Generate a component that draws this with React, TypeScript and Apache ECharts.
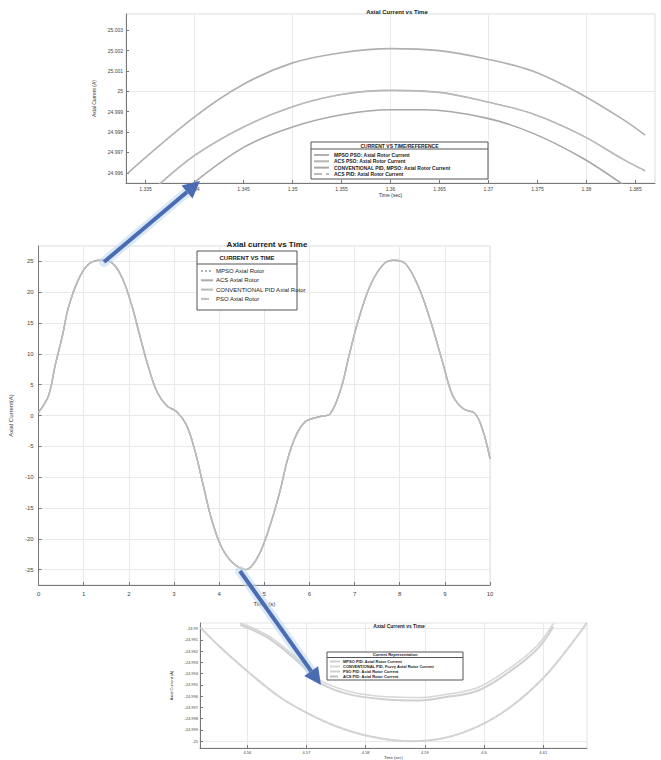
import React, { useEffect, useRef } from "react";
import * as echarts from "echarts";

// ---------- Main chart: Axial current vs Time ----------
const mainTime = [0, 0.22, 0.37, 0.53, 0.66, 0.88, 1.1, 1.36, 1.62, 1.84, 2.06, 2.24, 2.42, 2.62, 2.84, 3.06, 3.28, 3.47, 3.65, 3.83, 4.05, 4.3, 4.59, 4.86, 5.12, 5.34, 5.52, 5.7, 5.91, 6.22, 6.46, 6.7, 6.88, 7.1, 7.36, 7.65, 7.87, 8.13, 8.42, 8.68, 8.94, 9.17, 9.41, 9.67, 9.85, 10];
const mainCurrent = [0.5, 3.2, 8.2, 13, 17.5, 22, 24.5, 25.2, 24.8, 22.5, 18, 13, 8.2, 3.9, 1.6, 0.6, -1.6, -5.9, -11.4, -16.8, -21.3, -23.9, -25, -22.9, -18, -12.5, -7, -3.3, -1, -0.2, 0.3, 4.4, 9.8, 15.9, 21.3, 24.6, 25.2, 24.6, 20.8, 15.4, 8.9, 3.3, 1.1, 0.3, -2.6, -7];
const mainXTicks = [0, 1, 2, 3, 4, 5, 6, 7, 8, 9, 10];
const mainYTicks = [-25, -20, -15, -10, -5, 0, 5, 10, 15, 20, 25];
const mainLegend = ["MPSO Axial Rotor", "ACS Axial Rotor", "CONVENTIONAL PID Axial Rotor", "PSO Axial Rotor"];

// ---------- Top zoom: around the positive peak ----------
const topUpperTime = [1.3332, 1.34, 1.345, 1.35, 1.355, 1.36, 1.365, 1.3697, 1.3745, 1.3795, 1.3838, 1.386];
const topUpper = [24.996, 24.99875, 25.00035, 25.0014, 25.0019, 25.0021, 25.002, 25.0016, 25.001, 24.99985, 24.9986, 24.99785];
const topMiddleTime = [1.3362, 1.34, 1.345, 1.35, 1.355, 1.36, 1.365, 1.3697, 1.3745, 1.3795, 1.3838, 1.386];
const topMiddle = [24.99535, 24.99685, 24.99825, 24.99925, 24.99985, 25.00005, 24.99995, 24.9995, 24.9989, 24.99785, 24.99665, 24.9961];
const topLowerTime = [1.3395, 1.345, 1.35, 1.355, 1.36, 1.3635, 1.3697, 1.3745, 1.3795, 1.3838];
const topLower = [24.99535, 24.99725, 24.99825, 24.99885, 24.9991, 24.9991, 24.9987, 24.99795, 24.99675, 24.9954];
const topXTicks = [1.335, 1.34, 1.345, 1.35, 1.355, 1.36, 1.365, 1.37, 1.375, 1.38, 1.385];
const topYTicks = [24.996, 24.997, 24.998, 24.999, 25, 25.001, 25.002, 25.003];
const topLegend = ["MPSO PSO: Axial Rotor Current", "ACS PSO: Axial Rotor Current", "CONVENTIONAL PID, MPSO: Axial Rotor Current", "ACS PID: Axial Rotor Current"];

// ---------- Bottom zoom: around the negative trough ----------
const botUpperTime = [4.5588, 4.5639, 4.5698, 4.5723, 4.5774, 4.5836, 4.5892, 4.5931, 4.5989, 4.6044, 4.609, 4.6117];
const botUpper = [-24.98966, -24.99095, -24.99353, -24.99483, -24.99586, -24.99629, -24.99638, -24.99612, -24.99552, -24.99379, -24.99181, -24.98983];
const botUpper2 = [-24.9895, -24.99075, -24.9933, -24.9946, -24.9956, -24.99605, -24.99612, -24.99588, -24.99525, -24.9935, -24.9915, -24.98955];
const botLowerTime = [4.5521, 4.5554, 4.56, 4.5656, 4.5698, 4.5752, 4.5808, 4.5875, 4.5931, 4.5989, 4.6044, 4.61, 4.6141, 4.6174];
const botLower = [-24.98991, -24.99164, -24.99379, -24.99612, -24.99741, -24.99871, -24.99957, -25.0, -24.99974, -24.99871, -24.99698, -24.9944, -24.99181, -24.98948];
const botXTicks = [4.56, 4.57, 4.58, 4.59, 4.6, 4.61];
const botYTicks = [-25, -24.999, -24.998, -24.997, -24.996, -24.995, -24.994, -24.993, -24.992, -24.991, -24.99];
const botLegend = ["MPSO PID: Axial Rotor Current", "CONVENTIONAL PID, Fuzzy Axial Rotor Current", "PSO PID: Axial Rotor Current", "ACS PID: Axial Rotor Current"];

const FONT = "'Liberation Sans', Arial, sans-serif";
const pairs = (xs: number[], ys: number[]) => xs.map((x, i) => [x, ys[i]]);
const fmt = (v: number) => String(parseFloat(Number(v).toFixed(4)));

function gridLines(idx: number, xs: number[], ys: number[]) {
  return {
    type: "line",
    xAxisIndex: idx,
    yAxisIndex: idx,
    data: [],
    silent: true,
    z: 0,
    markLine: {
      silent: true,
      z: 0,
      symbol: ["none", "none"],
      label: { show: false },
      emphasis: { disabled: true },
      lineStyle: { color: "#e9e9e9", width: 1, type: "solid" },
      data: [...xs.map((v) => ({ xAxis: v })), ...ys.map((v) => ({ yAxis: v }))],
    },
  };
}

function axis(idx: number, min: number, max: number, ticks: number[], name: string, fontSize: number, nameGap: number, margin: number, isY: boolean) {
  return {
    type: "value",
    gridIndex: idx,
    min,
    max,
    name,
    nameLocation: "middle",
    nameGap,
    nameRotate: isY ? 90 : 0,
    nameTextStyle: { fontSize, color: "#333", fontFamily: FONT },
    axisLine: { show: true, onZero: false, lineStyle: { color: "#777", width: 1 } },
    axisTick: { show: true, inside: true, length: 3, customValues: ticks, lineStyle: { color: "#777" } },
    axisLabel: { customValues: ticks, fontSize, color: "#444", fontFamily: FONT, margin, formatter: fmt },
    splitLine: { show: false },
  };
}

function lineSeries(idx: number, name: string, data: number[][], color: string, width: number, type: string) {
  return {
    type: "line",
    name,
    xAxisIndex: idx,
    yAxisIndex: idx,
    data,
    smooth: 0.35,
    symbol: "none",
    showSymbol: false,
    z: 2,
    lineStyle: { color, width, type },
    itemStyle: { color },
  };
}

function legendBox(x: number, y: number, w: number, h: number, sepY: number, title: string, fontSize: number) {
  return {
    type: "group",
    z: 3,
    children: [
      { type: "rect", z: 3, shape: { x, y, width: w, height: h }, style: { fill: "#fff", stroke: "#555", lineWidth: 1 } },
      { type: "line", z: 3, shape: { x1: x, y1: sepY, x2: x + w, y2: sepY }, style: { stroke: "#555", lineWidth: 1 } },
      {
        type: "text",
        z: 3,
        x: x + w / 2,
        y: (y + sepY) / 2,
        style: { text: title, fill: "#222", font: `bold ${fontSize}px ${FONT}`, align: "center", verticalAlign: "middle" },
      },
    ],
  };
}

function arrow(x1: number, y1: number, x2: number, y2: number) {
  const dx = x2 - x1;
  const dy = y2 - y1;
  const len = Math.sqrt(dx * dx + dy * dy);
  const ux = dx / len;
  const uy = dy / len;
  const hl = 17;
  const hw = 8.5;
  const bx = x2 - ux * hl;
  const by = y2 - uy * hl;
  return {
    type: "group",
    z: 10,
    children: [
      { type: "line", z: 9, shape: { x1, y1, x2: bx, y2: by }, style: { stroke: "rgba(190,215,240,0.55)", lineWidth: 10, lineCap: "round" } },
      { type: "line", z: 10, shape: { x1, y1, x2: bx, y2: by }, style: { stroke: "#4a6cb3", lineWidth: 4 } },
      {
        type: "polygon",
        z: 10,
        shape: { points: [[x2, y2], [bx - uy * hw, by + ux * hw], [bx + uy * hw, by - ux * hw]] },
        style: { fill: "#4a6cb3" },
      },
    ],
  };
}

export default function App() {
  const ref = useRef<HTMLDivElement>(null);

  useEffect(() => {
    if (!ref.current) return;
    const chart = echarts.init(ref.current, undefined, { renderer: "svg" });
    const mainData = pairs(mainTime, mainCurrent);

    chart.setOption({
      animation: false,
      backgroundColor: "#ffffff",
      textStyle: { fontFamily: FONT },
      title: [
        { text: "Axial Current vs Time", left: 392, top: 4, textAlign: "center", textStyle: { fontSize: 6, fontWeight: "bold", color: "#222", fontFamily: FONT } },
        { text: "Axial current vs Time", left: 262, top: 235, textAlign: "center", textStyle: { fontSize: 8, fontWeight: "bold", color: "#222", fontFamily: FONT } },
        { text: "Axial Current vs Time", left: 394, top: 618, textAlign: "center", textStyle: { fontSize: 5, fontWeight: "bold", color: "#222", fontFamily: FONT } },
      ],
      grid: [
        { left: 33, top: 246, width: 457, height: 339, show: true, borderColor: "#dddddd", borderWidth: 1, backgroundColor: "transparent" },
        { left: 126, top: 14, width: 529, height: 169, show: true, borderColor: "#dddddd", borderWidth: 1, backgroundColor: "transparent" },
        { left: 200, top: 623, width: 387, height: 129, show: true, borderColor: "#e2e2e2", borderWidth: 1, backgroundColor: "transparent" },
      ],
      xAxis: [
        axis(0, 0, 10, mainXTicks, "Time (s)", 6, 16, 6, false),
        axis(1, 1.333, 1.387, topXTicks, "Time (sec)", 5, 9, 3, false),
        axis(2, 4.552, 4.6174, botXTicks, "Time (sec)", 4, 7, 2, false),
      ],
      yAxis: [
        axis(0, -27.5, 27.5, mainYTicks, "Axial Current(A)", 6, 12, 5, true),
        axis(1, 24.9955, 25.0038, topYTicks, "Axial Current (A)", 5, 19, 3, true),
        axis(2, -25.0006, -24.9895, botYTicks, "Axial Current (A)", 4, 18, 2, true),
      ],
      legend: [
        {
          data: mainLegend,
          orient: "vertical",
          left: 200,
          top: 268,
          itemWidth: 12,
          itemHeight: 7,
          itemGap: 3.3,
          padding: 0,
          selectedMode: false,
          itemStyle: { opacity: 0 },
          textStyle: { fontSize: 6, color: "#222", fontFamily: FONT, padding: [0, 0, 0, -2] },
        },
        {
          data: topLegend,
          orient: "vertical",
          left: 313,
          top: 152.5,
          itemWidth: 15,
          itemHeight: 5,
          itemGap: 1.3,
          padding: 0,
          selectedMode: false,
          itemStyle: { opacity: 0 },
          textStyle: { fontSize: 5, color: "#222", fontWeight: "bold", fontFamily: FONT },
        },
        {
          data: botLegend,
          orient: "vertical",
          left: 329,
          top: 659.5,
          itemWidth: 10,
          itemHeight: 4,
          itemGap: 1,
          padding: 0,
          selectedMode: false,
          itemStyle: { opacity: 0 },
          textStyle: { fontSize: 4, color: "#222", fontWeight: "bold", fontFamily: FONT, padding: [0, 0, 0, -2] },
        },
      ],
      series: [
        gridLines(0, mainXTicks, mainYTicks),
        gridLines(1, topXTicks, topYTicks),
        gridLines(2, botXTicks, botYTicks),
        lineSeries(0, mainLegend[0], mainData, "#b4b4b4", 1.4, "dotted"),
        lineSeries(0, mainLegend[1], mainData, "#aaaaaa", 1.4, "solid"),
        lineSeries(0, mainLegend[2], mainData, "#b8b8b8", 1.4, "solid"),
        lineSeries(0, mainLegend[3], mainData, "#bdbdbd", 1.4, "dashed"),
        lineSeries(1, topLegend[0], pairs(topUpperTime, topUpper), "#b0b0b0", 1.6, "solid"),
        lineSeries(1, topLegend[1], pairs(topMiddleTime, topMiddle), "#b4b4b4", 1.6, "solid"),
        lineSeries(1, topLegend[2], pairs(topLowerTime, topLower), "#a8a8a8", 1.6, "solid"),
        lineSeries(1, topLegend[3], pairs(topMiddleTime, topMiddle), "#bcbcbc", 1.2, "dashed"),
        lineSeries(2, botLegend[0], pairs(botUpperTime, botUpper), "#d0d0d0", 2, "solid"),
        lineSeries(2, botLegend[1], pairs(botUpperTime, botUpper2), "#d6d6d6", 1.5, "solid"),
        lineSeries(2, botLegend[2], pairs(botLowerTime, botLower), "#cfcfcf", 2, "solid"),
        lineSeries(2, botLegend[3], pairs(botLowerTime, botLower), "#d8d8d8", 1.2, "dashed"),
      ],
      graphic: [
        legendBox(197, 251, 100, 59, 264, "CURRENT VS TIME", 6),
        legendBox(311, 142, 177, 37, 149, "CURRENT VS TIME/REFERENCE", 5),
        legendBox(327, 652, 136, 28, 657.5, "Current Representation", 4),
        arrow(104, 262, 200, 181),
        arrow(240, 571, 321, 685),
      ],
    });

    return () => {
      chart.dispose();
    };
  }, []);

  return (
    <div style={{ position: "absolute", left: 0, top: 0, width: 661, height: 760, background: "#fff" }}>
      <div ref={ref} style={{ width: 661, height: 760 }} />
    </div>
  );
}
